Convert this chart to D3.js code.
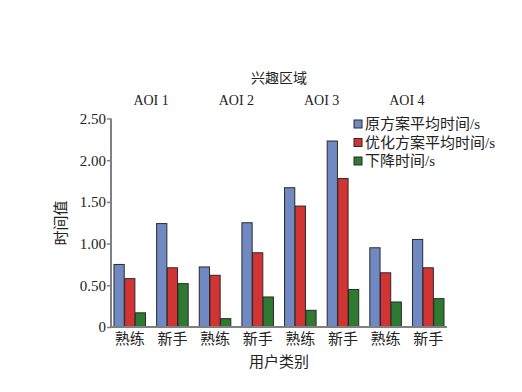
<!DOCTYPE html>
<html><head><meta charset="utf-8">
<script src="https://cdn.jsdelivr.net/npm/d3@7"></script>
<style>body{margin:0;background:#fff}svg{display:block}</style>
</head><body>
<script>
const categories = ["熟练","新手","熟练","新手","熟练","新手","熟练","新手"];
const aoiLabels = ["AOI 1","AOI 2","AOI 3","AOI 4"];
const seriesNames = ["原方案平均时间/s","优化方案平均时间/s","下降时间/s"];
const original = [0.75,1.24,0.72,1.25,1.67,2.23,0.95,1.05];
const optimized = [0.58,0.71,0.62,0.89,1.45,1.78,0.65,0.71];
const decrease = [0.17,0.52,0.10,0.36,0.20,0.45,0.30,0.34];
const yTicks = [0,0.5,1.0,1.5,2.0,2.5];
const colors = ["#7189c2","#d23333","#2f7a31"];

(function(){
const W=522,H=392;
const svg=d3.select("body").append("svg").attr("width",W).attr("height",H);
const font="'Liberation Serif','Noto Sans CJK SC',serif";
const mLeft=111,mRight=447,mTop=118.5,mBottom=327;
const x0=d3.scaleBand().domain(d3.range(categories.length)).range([mLeft,mRight]).paddingInner(0.26).paddingOuter(0.07);
const x1=d3.scaleBand().domain([0,1,2]).range([0,x0.bandwidth()]).paddingInner(0.04);
const y=d3.scaleLinear().domain([0,2.5]).range([mBottom,mTop]);
const series=[original,optimized,decrease];

const g=svg.append("g");
categories.forEach((c,i)=>{
  series.forEach((s,j)=>{
    g.append("rect").attr("x",x0(i)+x1(j)).attr("y",y(s[i]))
     .attr("width",x1.bandwidth()).attr("height",y(0)-y(s[i]))
     .attr("fill",colors[j]).attr("stroke","#2a2a2a").attr("stroke-width",1);
  });
});

const ya=svg.append("g").attr("transform",`translate(${mLeft},0)`)
 .call(d3.axisLeft(y).tickValues(yTicks).tickSize(4).tickFormat(d=>d===0?"0":d3.format(".2f")(d)));
ya.select(".domain").attr("stroke","#808080").attr("stroke-width",2).attr("d",`M0,${mTop}V${mBottom}`);
ya.selectAll(".tick line").attr("stroke","#808080").attr("stroke-width",1.5);
ya.selectAll("text").attr("font-family",font).attr("font-size",15).attr("fill","#222").attr("x",-5);

const xa=svg.append("g").attr("transform",`translate(0,${mBottom})`)
 .call(d3.axisBottom(x0).tickSize(0).tickFormat(i=>categories[i]));
xa.select(".domain").attr("stroke","#808080").attr("stroke-width",2).attr("d",`M${mLeft},0H${mRight}`);
xa.selectAll("text").attr("font-family",font).attr("font-size",15).attr("fill","#222").attr("dy","0.95em");

aoiLabels.forEach((a,k)=>{
  const cx=(x0(2*k)+x0(2*k+1)+x0.bandwidth())/2;
  svg.append("text").attr("x",cx).attr("y",105).attr("text-anchor","middle")
   .attr("font-family",font).attr("font-size",14).attr("fill","#222").text(a);
});
svg.append("text").attr("x",279).attr("y",83).attr("text-anchor","middle")
 .attr("font-family",font).attr("font-size",14).attr("fill","#222").text("兴趣区域");
svg.append("text").attr("x",279).attr("y",367).attr("text-anchor","middle")
 .attr("font-family",font).attr("font-size",15).attr("fill","#222").text("用户类别");
svg.append("text").attr("transform","translate(66,223) rotate(-90)").attr("text-anchor","middle")
 .attr("font-family",font).attr("font-size",15).attr("fill","#222").text("时间值");

seriesNames.forEach((n,j)=>{
  const ly=124+j*18.5;
  svg.append("rect").attr("x",354).attr("y",ly-4).attr("width",8).attr("height",8)
   .attr("fill",colors[j]).attr("stroke","#2a2a2a").attr("stroke-width",1);
  svg.append("text").attr("x",365).attr("y",ly).attr("dy","0.35em")
   .attr("font-family",font).attr("font-size",15).attr("fill","#222").text(n);
});
})();
</script>
</body></html>
